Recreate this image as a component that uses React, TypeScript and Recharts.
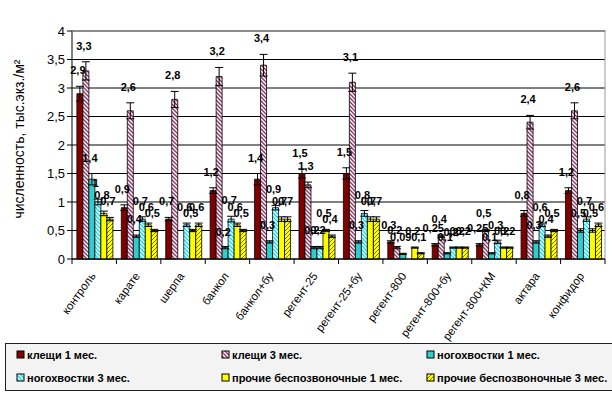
import React from "react"
import { Bar, BarChart, CartesianGrid, ErrorBar, LabelList, XAxis, YAxis } from "recharts"

const categories = [
  "контроль", "карате", "шерпа", "банкол", "банкол+бу", "регент-25", "регент-25+бу",
  "регент-800", "регент-800+бу", "регент-800+КМ", "актара", "конфидор",
]

const klesh1 = [2.9, 0.9, 0.7, 1.2, 1.4, 1.5, 1.5, 0.3, 0.25, 0.25, 0.8, 1.2]
const klesh3 = [3.3, 2.6, 2.8, 3.2, 3.4, 1.3, 3.1, 0.2, 0.4, 0.5, 2.4, 2.6]
const nogo1 = [1.4, 0.4, 0, 0.2, 0.3, 0.2, 0.3, 0.09, 0.1, 0.1, 0.3, 0.5]
const nogo3 = [1.0, 0.7, 0.6, 0.7, 0.9, 0.2, 0.8, 0, 0.2, 0.3, 0.6, 0.7]
const other1 = [0.8, 0.6, 0.5, 0.6, 0.7, 0.5, 0.7, 0.2, 0.2, 0.2, 0.4, 0.5]
const other3 = [0.7, 0.5, 0.6, 0.5, 0.7, 0.4, 0.7, 0.1, 0.2, 0.2, 0.5, 0.6]

const klesh1Err = [0.13, 0.05, 0.03, 0.05, 0.1, 0.08, 0.1, 0.02, 0.02, 0.02, 0.05, 0.05]
const klesh3Err = [0.16, 0.14, 0.14, 0.16, 0.19, 0.05, 0.16, 0.02, 0.02, 0.02, 0.12, 0.14]
const nogo1Err = [0.1, 0.02, 0, 0.02, 0.02, 0.02, 0.02, 0.01, 0.01, 0.01, 0.02, 0.03]
const nogo3Err = [0.05, 0.04, 0.03, 0.05, 0.04, 0.02, 0.05, 0, 0.01, 0.03, 0.03, 0.04]
const other1Err = [0.04, 0.03, 0.02, 0.03, 0.04, 0.02, 0.04, 0.01, 0.01, 0.01, 0.02, 0.03]
const other3Err = [0.03, 0.02, 0.03, 0.02, 0.04, 0.02, 0.04, 0.01, 0.01, 0.01, 0.02, 0.03]

const yTicks = [0, 0.5, 1, 1.5, 2, 2.5, 3, 3.5, 4]

const series = [
  { key: "k1", name: "клещи 1 мес.", values: klesh1, err: klesh1Err, fill: "#800000" },
  { key: "k3", name: "клещи 3 мес.", values: klesh3, err: klesh3Err, fill: "url(#pat-k3)" },
  { key: "n1", name: "ногохвостки 1 мес.", values: nogo1, err: nogo1Err, fill: "#33cccc" },
  { key: "n3", name: "ногохвостки 3 мес.", values: nogo3, err: nogo3Err, fill: "url(#pat-n3)" },
  { key: "o1", name: "прочие беспозвоночные 1 мес.", values: other1, err: other1Err, fill: "#ffff00" },
  { key: "o3", name: "прочие беспозвоночные 3 мес.", values: other3, err: other3Err, fill: "url(#pat-o3)" },
]

const data = categories.map((c, i) => {
  const row: Record<string, any> = { name: c }
  series.forEach((s) => {
    row[s.key] = s.values[i]
    row[s.key + "e"] = s.err[i]
  })
  return row
})

const FONT = "'Liberation Sans', Arial, sans-serif"
const fmt = (v: number) => String(v).replace(".", ",")

const W = 612
const H = 399
const LEFT = 72
const RIGHT_M = 6
const PLOT_W = W - LEFT - RIGHT_M - 1
const BAND = PLOT_W / categories.length

const XTick = (props: any) => {
  const { x, y, payload, index } = props
  const px = x + 2
  const py = y + 17
  return (
    <g>
      <line x1={x - BAND / 2} x2={x - BAND / 2} y1={y} y2={y + 5} stroke="#000" />
      {index === categories.length - 1 && (
        <line x1={x + BAND / 2} x2={x + BAND / 2} y1={y} y2={y + 5} stroke="#000" />
      )}
      <text
        x={px}
        y={py}
        transform={`rotate(-54 ${px} ${py})`}
        textAnchor="end"
        fontSize={11.5}
        fontFamily={FONT}
        fill="#000"
      >
        {payload.value}
      </text>
    </g>
  )
}

const makeLabel = (errs: number[]) => (props: any) => {
  const { x, y, width, height, value, index } = props
  if (!value) return null
  const errPx = (errs[index] || 0) * (height / value)
  return (
    <text
      x={x + width / 2 - 2}
      y={y - errPx - 12}
      textAnchor="middle"
      fontSize={11}
      fontWeight="bold"
      fontFamily={FONT}
      fill="#000"
    >
      {fmt(value)}
    </text>
  )
}

const legendCols = [11, 216, 421]
const legendRows = [11, 34]

export default function App() {
  return (
    <div style={{ position: "absolute", left: 0, top: 0, width: W, height: H, background: "#fff" }}>
      <BarChart
        width={W}
        height={H}
        data={data}
        margin={{ top: 31, right: RIGHT_M, left: 0, bottom: 70 }}
        barCategoryGap="11%"
        barGap={0}
      >
        <defs>
          <pattern id="pat-k3" width="4" height="4" patternUnits="userSpaceOnUse">
            <rect width="4" height="4" fill="#fff" />
            <path d="M-1,3 l2,2 M0,0 l4,4 M3,-1 l2,2" stroke="#993366" strokeWidth="1.4" />
          </pattern>
          <pattern id="pat-n3" width="4" height="4" patternUnits="userSpaceOnUse">
            <rect width="4" height="4" fill="#fff" />
            <path d="M-1,3 l2,2 M0,0 l4,4 M3,-1 l2,2" stroke="#00e5ff" strokeWidth="1.4" />
          </pattern>
          <pattern id="pat-o3" width="4" height="4" patternUnits="userSpaceOnUse">
            <rect width="4" height="4" fill="#ffff00" />
            <path d="M-1,1 l2,-2 M0,4 l4,-4 M3,5 l2,-2" stroke="#555500" strokeWidth="0.8" />
          </pattern>
        </defs>
        <CartesianGrid vertical={false} stroke="#000" />
        <XAxis
          dataKey="name"
          interval={0}
          height={70}
          tickLine={false}
          tickSize={0}
          tickMargin={0}
          axisLine={{ stroke: "#000" }}
          tick={<XTick />}
        />
        <YAxis
          domain={[0, 4]}
          ticks={yTicks}
          interval={0}
          width={LEFT}
          tickFormatter={fmt}
          axisLine={{ stroke: "#000" }}
          tickLine={{ stroke: "#000" }}
          tickSize={5}
          tick={{ fill: "#000", fontSize: 13, fontFamily: FONT }}
          label={{
            value: "численность, тыс.экз./м²",
            angle: -90,
            position: "insideLeft",
            dx: 14,
            dy: -6,
            style: { fill: "#000", fontSize: 14, fontFamily: FONT, textAnchor: "middle" },
          }}
        />
        <YAxis
          yAxisId="border"
          orientation="right"
          domain={[0, 4]}
          width={1}
          tick={false}
          tickLine={false}
          axisLine={{ stroke: "#999" }}
        />
        {series.map((s) => (
          <Bar
            key={s.key}
            dataKey={s.key}
            name={s.name}
            fill={s.fill}
            stroke="#000"
            strokeWidth={0.8}
            isAnimationActive={false}
          >
            <ErrorBar dataKey={s.key + "e"} width={4} stroke="#000" strokeWidth={1} direction="y" isAnimationActive={false} />
            <LabelList dataKey={s.key} content={makeLabel(s.err)} />
          </Bar>
        ))}
      </BarChart>
      <svg style={{ position: "absolute", left: 0, top: 0, pointerEvents: "none" }} width={W} height={40}>
        <line x1={LEFT} x2={W - RIGHT_M} y1={31} y2={31} stroke="#999" />
      </svg>
      <div
        style={{
          position: "absolute",
          left: 5,
          top: 343,
          width: 612,
          height: 46,
          border: "1.5px solid #222",
          background: "#f3f3f3",
        }}
      >
        <svg width={612} height={46}>
          {series.map((s, i) => {
            const cx = legendCols[i % 3]
            const cy = legendRows[Math.floor(i / 3)]
            return (
              <g key={s.key}>
                <rect x={cx} y={cy - 4} width={7} height={7} fill={s.fill} stroke="#000" strokeWidth={1} />
                <text x={cx + 10} y={cy + 3.5} fontSize={11} fontWeight="bold" fontFamily={FONT} fill="#000">
                  {s.name}
                </text>
              </g>
            )
          })}
        </svg>
      </div>
    </div>
  )
}
